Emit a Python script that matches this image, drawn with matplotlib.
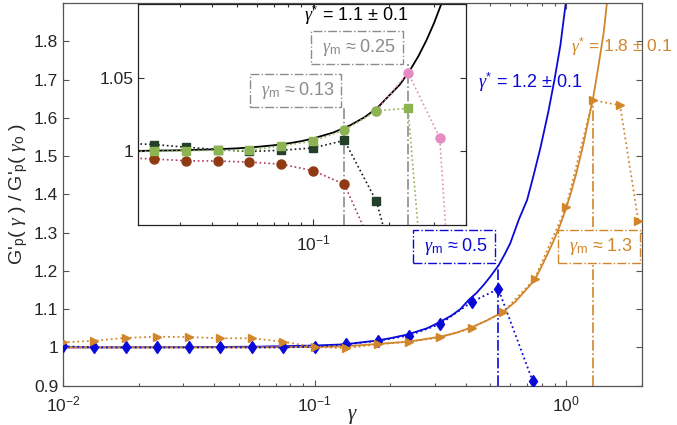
import matplotlib
matplotlib.use("Agg")
import matplotlib.pyplot as plt
import matplotlib.ticker as ticker

plt.rcParams['font.family'] = ['Liberation Sans', 'DejaVu Sans']
plt.rcParams['mathtext.fontset'] = 'custom'
plt.rcParams['mathtext.rm'] = 'Liberation Sans'
plt.rcParams['mathtext.sf'] = 'Liberation Sans'
plt.rcParams['mathtext.it'] = 'Liberation Serif:italic'

# --- main panel data ---
blue_x = [0.01, 0.0133, 0.0178, 0.0237, 0.0316, 0.0422, 0.0562, 0.075, 0.1,
          0.133, 0.178, 0.237, 0.316, 0.422, 0.538, 0.737]
blue_y = [1.003, 1.0, 1.0, 1.0, 1.0, 1.0, 1.0, 1.0, 1.002,
          1.008, 1.017, 1.031, 1.061, 1.119, 1.153, 0.912]
orange_x = [0.01, 0.0133, 0.0178, 0.0237, 0.0316, 0.0422, 0.0562, 0.075, 0.1,
            0.133, 0.178, 0.237, 0.316, 0.422, 0.562, 0.75, 1.0, 1.277, 1.64, 1.94]
orange_y = [1.013, 1.0175, 1.025, 1.028, 1.027, 1.024, 1.024, 1.015, 1.001,
            0.998, 1.008, 1.015, 1.026, 1.051, 1.092, 1.179, 1.366, 1.646, 1.633, 1.33]

blue_fit_x = [0.01, 0.03, 0.06, 0.1, 0.132, 0.177, 0.2, 0.235, 0.28, 0.31, 0.35,
              0.38, 0.41, 0.44, 0.47, 0.5, 0.54, 0.57, 0.6, 0.65, 0.70, 0.74, 0.79,
              0.82, 0.85, 0.9, 0.95, 1.0]
blue_fit_y = [1.0, 1.0005, 1.002, 1.005, 1.008, 1.018, 1.024, 1.034, 1.05, 1.064, 1.083,
              1.10, 1.124, 1.142, 1.163, 1.185, 1.215, 1.243, 1.272, 1.335, 1.385, 1.445,
              1.52, 1.568, 1.615, 1.70, 1.79, 1.905]
orange_fit_x = [0.01, 0.05, 0.1, 0.133, 0.178, 0.237, 0.316, 0.37, 0.422, 0.48, 0.563,
                0.63, 0.69, 0.75, 0.8, 0.85, 0.9, 0.95, 1.0, 1.05, 1.1, 1.17, 1.23,
                1.28, 1.33, 1.37, 1.41, 1.46]
orange_fit_y = [1.0, 1.0, 1.001, 1.003, 1.009, 1.015, 1.028, 1.039, 1.053, 1.069, 1.093,
                1.12, 1.149, 1.176, 1.212, 1.248, 1.284, 1.322, 1.363, 1.408, 1.456,
                1.529, 1.597, 1.65, 1.715, 1.768, 1.82, 1.91]

gm_main = [0.538, 1.284]          # gamma_m markers (blue, orange)
gm_main_top = [1.22, 1.646]

# --- inset data ---
in_x = [0.0178, 0.0237, 0.0316, 0.0422, 0.0562, 0.075, 0.1, 0.133, 0.178, 0.237, 0.316]
dark_y = [1.0055, 1.0046, 1.0028, 1.0012, 0.9999, 1.0007, 1.0023, 1.0074, 0.966, 0.887]
light_y = [1.0, 1.0, 1.0005, 1.0007, 1.0006, 1.0037, 1.0069, 1.0145, 1.0275, 1.0292, 0.773]
brown_y = [0.9956, 0.9948, 0.9936, 0.9934, 0.9927, 0.9913, 0.9869, 0.9776, 0.929]
pink_x = [0.178, 0.237, 0.316, 0.422]
pink_y = [1.0275, 1.0534, 1.0092, 0.683]

fit_in_x = [0.0205, 0.03, 0.04, 0.05, 0.06, 0.07, 0.08, 0.09, 0.1, 0.12, 0.14, 0.16,
            0.18, 0.2, 0.22, 0.24, 0.26, 0.28, 0.3, 0.32, 0.34]
fit_in_y = [1.0003, 1.0007, 1.0013, 1.0020, 1.0030, 1.0041, 1.0054, 1.0069, 1.0087,
            1.0127, 1.0176, 1.0232, 1.0298, 1.038, 1.0453, 1.0544, 1.0644, 1.0753,
            1.0870, 1.0997, 1.113]

gm_inset = [0.133, 0.237]
gm_inset_top = [1.0305, 1.0596]

BLUE = '#0A0AD8'
ORANGE = '#D2862C'
GRAY = '#8C8C8C'
DARK = '#24402A'
LIGHT = '#8CB453'
BROWN = '#8E3A12'
PINK = '#E68CC3'
AXC = '#555555'
TXT = '#262626'

fig = plt.figure(figsize=(6.77, 4.25), dpi=100)
ax = fig.add_axes([0.0931, 0.0925, 0.8548, 0.9004])

ax.plot(blue_fit_x, blue_fit_y, '-', color=BLUE, lw=1.3, zorder=2)
ax.plot(orange_fit_x, orange_fit_y, '-', color=ORANGE, lw=1.3, zorder=2)
ax.plot(blue_x, blue_y, ':', color=BLUE, lw=1.3, marker='d', ms=6.5,
        mfc=BLUE, mec=BLUE, zorder=3)
ax.plot(orange_x, orange_y, ':', color=ORANGE, lw=1.3, marker='>', ms=6,
        mfc=ORANGE, mec=ORANGE, zorder=3)
for xm, ym, c in zip(gm_main, gm_main_top, [BLUE, ORANGE]):
    ax.plot([xm, xm], [0.9, ym], '-.', color=c, lw=1.2, zorder=2)

box_kw = dict(boxstyle='square,pad=0.33', fc='white', ls='-.', lw=1.0)
ax.text(0.359, 1.263, r' $\gamma_\mathrm{m}$ ≈ 0.5 ', color=BLUE, fontsize=13,
        ha='center', va='center', bbox=dict(ec=BLUE, **box_kw), zorder=5)
ax.text(1.35, 1.263, r' $\gamma_\mathrm{m}$ ≈ 1.3 ', color=ORANGE, fontsize=13,
        ha='center', va='center', bbox=dict(ec=ORANGE, **box_kw), zorder=5)
ax.text(0.7225, 1.694, r'$\gamma^{*}$ = 1.2 ± 0.1', color=BLUE, fontsize=13,
        ha='center', va='center')
ax.text(1.045, 1.785, r'$\gamma^{*}$ = 1.8 ± 0.1', color=ORANGE, fontsize=12.5,
        ha='left', va='center')

ax.set_xscale('log')
ax.set_xlim(0.01, 2)
ax.set_ylim(0.9, 1.9)
ax.yaxis.set_major_locator(ticker.FixedLocator([0.9, 1, 1.1, 1.2, 1.3, 1.4, 1.5, 1.6, 1.7, 1.8]))
ax.yaxis.set_major_formatter(ticker.FormatStrFormatter('%g'))
ax.tick_params(which='both', direction='in', top=True, right=True, colors=AXC,
               labelcolor=TXT, labelsize=12.5, width=0.8)
ax.tick_params(axis='x', pad=6)
ax.tick_params(which='major', length=4)
ax.tick_params(which='minor', length=2.5)
for s in ax.spines.values():
    s.set_color(AXC)
    s.set_linewidth(0.9)
ax.set_xlabel(r'$\gamma$', fontsize=15, color=TXT)
ax.xaxis.set_label_coords(0.5, -0.055)
ax.set_ylabel(r"G'$_\mathrm{p}$( $\gamma$ ) / G'$_\mathrm{p}$( $\gamma_\mathrm{o}$ )",
              fontsize=14, color=TXT, labelpad=3)

# --- inset ---
ins = fig.add_axes([0.2043, 0.4706, 0.4836, 0.52])
ins.plot(fit_in_x, fit_in_y, '-', color='black', lw=1.3, zorder=2)
ins.plot(in_x[:len(dark_y)], dark_y, ':', color='#1a1a1a', lw=1.2, marker='s', ms=5.5,
         mfc=DARK, mec=DARK, zorder=3)
ins.plot(in_x[:len(brown_y)], brown_y, ':', color='#B03A5B', lw=1.2, marker='o', ms=6.5,
         mfc=BROWN, mec=BROWN, zorder=3)
ins.plot(pink_x, pink_y, ':', color=PINK, lw=1.2, marker='o', ms=6.5,
         mfc=PINK, mec=PINK, zorder=3)
ins.plot(in_x, light_y, ':', color=LIGHT, lw=1.2, marker='s', ms=5.5,
         markevery=[0, 1, 2, 3, 4, 5, 6, 9, 10], mfc=LIGHT, mec=LIGHT, zorder=4)
ins.plot(in_x[7:9], light_y[7:9], 'o', ms=6.5, mfc=LIGHT, mec=LIGHT, zorder=4)
for xm, ym in zip(gm_inset, gm_inset_top):
    ins.plot([xm, xm], [0.95, ym], '-.', color=GRAY, lw=1.2, zorder=2)

ins.text(0.0854, 1.0413, r' $\gamma_\mathrm{m}$ ≈ 0.13 ', color=GRAY, fontsize=13,
         ha='center', va='center', bbox=dict(ec=GRAY, **box_kw), zorder=5)
ins.text(0.1496, 1.0706, r' $\gamma_\mathrm{m}$ ≈ 0.25 ', color=GRAY, fontsize=13,
         ha='center', va='center', bbox=dict(ec=GRAY, **box_kw), zorder=5)
ins.text(0.092, 1.0925, r'$\gamma^{*}$ = 1.1 ± 0.1', color='black', fontsize=13,
         ha='left', va='center')

ins.set_xscale('log')
ins.set_xlim(0.0205, 0.4)
ins.set_ylim(0.95, 1.1)
ins.set_yticks([1, 1.05])
ins.yaxis.set_major_formatter(ticker.FormatStrFormatter('%g'))
ins.xaxis.set_minor_formatter(ticker.NullFormatter())
ins.tick_params(which='both', direction='in', top=True, right=True, colors='#333333',
                labelcolor=TXT, labelsize=12.5, width=0.8)
ins.tick_params(axis='x', pad=6)
ins.tick_params(which='major', length=4)
ins.tick_params(which='minor', length=2.5)
for s in ins.spines.values():
    s.set_color('#222222')
    s.set_linewidth(0.9)

fig.savefig('out.png', dpi=100)
